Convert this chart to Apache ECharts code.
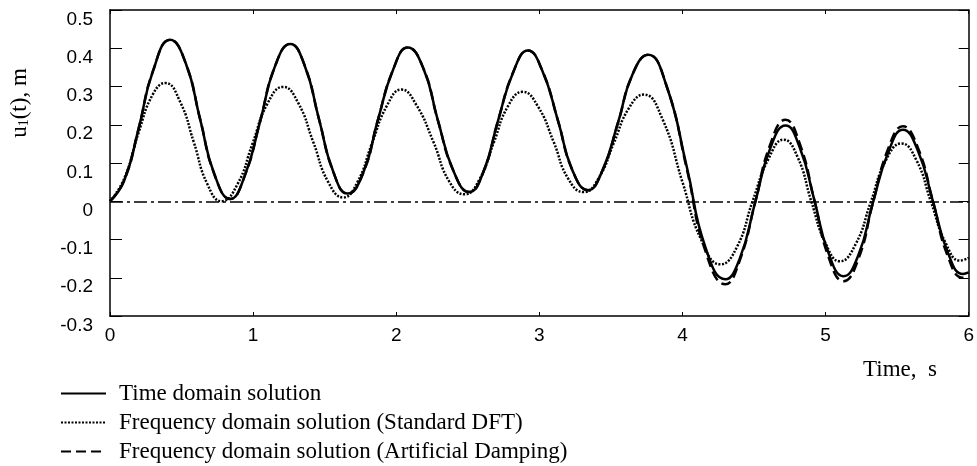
<!DOCTYPE html>
<html>
<head>
<meta charset="utf-8">
<script src="https://cdn.jsdelivr.net/npm/echarts@6/dist/echarts.min.js"></script>
<style>
  html, body { margin: 0; padding: 0; background: #fff; }
  #chart { width: 977px; height: 466px; }
</style>
</head>
<body>
<div id="chart"></div>
<script>
// Time domain solution (solid)
const timeT = [0, 0.1, 0.2, 0.3, 0.42, 0.53, 0.63, 0.73, 0.84, 0.94, 1.05, 1.15, 1.26, 1.36, 1.46, 1.56, 1.66,
    1.77, 1.87, 1.98, 2.08, 2.19, 2.29, 2.40, 2.51, 2.61, 2.71, 2.82, 2.92, 3.02, 3.13, 3.23, 3.34,
    3.44, 3.55, 3.65, 3.76, 3.89, 4.03, 4.16, 4.30, 4.40, 4.51, 4.61, 4.72, 4.82, 4.92, 5.02, 5.125,
    5.23, 5.33, 5.44, 5.54, 5.645, 5.75, 5.855, 5.96, 6.0];
const timeU = [0, 0.055, 0.19, 0.34, 0.422, 0.36, 0.214, 0.07, 0.006, 0.065, 0.21, 0.35, 0.411, 0.355, 0.215, 0.077, 0.02,
    0.075, 0.21, 0.346, 0.402, 0.347, 0.213, 0.079, 0.024, 0.078, 0.209, 0.34, 0.394, 0.342, 0.211, 0.082, 0.029,
    0.08, 0.206, 0.331, 0.383, 0.30, 0.09, -0.12, -0.204, -0.15, 0.0, 0.135, 0.198, 0.14, 0.005, -0.135, -0.196,
    -0.14, -0.005, 0.13, 0.187, 0.132, 0.0, -0.135, -0.19, -0.186];

// Frequency domain solution, standard DFT (dotted)
const dftT = [0, 0.1, 0.2, 0.3, 0.387, 0.49, 0.585, 0.68, 0.78, 0.89, 0.995, 1.10, 1.21, 1.315, 1.42, 1.525, 1.63,
    1.73, 1.83, 1.935, 2.036, 2.14, 2.26, 2.37, 2.477, 2.58, 2.68, 2.78, 2.884, 2.99, 3.10, 3.20, 3.31,
    3.415, 3.52, 3.625, 3.73, 3.86, 4.0, 4.13, 4.266, 4.38, 4.49, 4.60, 4.707, 4.805, 4.90, 5.0, 5.10,
    5.21, 5.315, 5.42, 5.53, 5.635, 5.735, 5.84, 5.94, 6.0];
const dftU = [0, 0.06, 0.18, 0.28, 0.309, 0.26, 0.155, 0.045, 0.0, 0.044, 0.15, 0.255, 0.299, 0.257, 0.155, 0.05, 0.01,
    0.051, 0.151, 0.25, 0.292, 0.252, 0.155, 0.052, 0.018, 0.056, 0.152, 0.248, 0.286, 0.248, 0.155, 0.06, 0.024,
    0.061, 0.152, 0.243, 0.279, 0.215, 0.05, -0.10, -0.165, -0.12, 0.0, 0.11, 0.161, 0.115, 0.0, -0.11, -0.157,
    -0.112, -0.003, 0.106, 0.151, 0.107, 0.0, -0.11, -0.155, -0.148];

// Frequency domain solution, artificial damping (dashed)
const dampT = timeT;
const dampU = [0, 0.055, 0.19, 0.34, 0.422, 0.36, 0.214, 0.07, 0.006, 0.065, 0.21, 0.35, 0.411, 0.355, 0.215, 0.077, 0.02,
    0.075, 0.21, 0.346, 0.402, 0.347, 0.213, 0.079, 0.024, 0.078, 0.209, 0.34, 0.394, 0.342, 0.211, 0.082, 0.029,
    0.08, 0.206, 0.331, 0.383, 0.30, 0.085, -0.13, -0.217, -0.155, 0.0, 0.145, 0.213, 0.15, 0.005, -0.145, -0.209,
    -0.15, -0.005, 0.14, 0.196, 0.14, 0.0, -0.145, -0.2, -0.196];

const seriesNames = [
    'Time domain solution',
    'Frequency domain solution (Standard DFT)',
    'Frequency domain solution (Artificial Damping)'
];

const zip = (t, u) => t.map((x, i) => [x, u[i]]);

const chart = echarts.init(document.getElementById('chart'));

const axisLine = { show: true, onZero: false, lineStyle: { color: '#000', width: 1.5 } };
const sansLabel = { color: '#000', fontFamily: 'Liberation Sans, Arial', fontSize: 19 };
const serif = 'Liberation Serif, Times New Roman';

chart.setOption({
    animation: false,
    grid: { left: 110, right: 7, top: 10, bottom: 150 },
    xAxis: [{
        type: 'value', min: 0, max: 6, interval: 1,
        axisLine: axisLine,
        axisTick: { show: true, inside: true, length: 4, lineStyle: { color: '#000' } },
        axisLabel: Object.assign({ margin: 10 }, sansLabel),
        splitLine: { show: false }
    }, {
        type: 'value', position: 'top', min: 0, max: 6, interval: 1,
        axisLine: axisLine,
        axisTick: { show: true, inside: true, length: 4, lineStyle: { color: '#000' } },
        axisLabel: { show: false },
        splitLine: { show: false }
    }],
    yAxis: [{
        type: 'value', min: -0.3, max: 0.5, interval: 0.1,
        axisLine: axisLine,
        axisTick: { show: true, inside: true, length: 12, lineStyle: { color: '#000' } },
        axisLabel: Object.assign({
            margin: 17, verticalAlign: 'top',
            formatter: v => String(Math.round(v * 10) / 10)
        }, sansLabel),
        splitLine: { show: false }
    }, {
        type: 'value', position: 'right', min: -0.3, max: 0.5, interval: 0.1,
        axisLine: axisLine,
        axisTick: { show: true, inside: true, length: 10, lineStyle: { color: '#000' } },
        axisLabel: { show: false },
        splitLine: { show: false }
    }],
    legend: {
        orient: 'vertical', left: 55, top: 377, height: 100,
        itemWidth: 45, itemHeight: 14, itemGap: 6,
        itemStyle: { opacity: 0 },
        data: seriesNames,
        textStyle: { color: '#000', fontFamily: serif, fontSize: 23, padding: [0, 0, 0, 8] }
    },
    graphic: [{
        type: 'text', x: 20, y: 103, rotation: Math.PI / 2,
        style: {
            text: 'u{sub|1}(t), m',
            align: 'center', verticalAlign: 'middle',
            fontFamily: serif, fontSize: 23, fill: '#000',
            rich: { sub: { fontSize: 14, fontFamily: serif, padding: [9, 0, 0, 0] } }
        }
    }, {
        type: 'text', x: 900, y: 370,
        style: {
            text: 'Time,  s', align: 'center', verticalAlign: 'middle',
            fontFamily: serif, fontSize: 23, fill: '#000'
        }
    }],
    series: [{
        name: seriesNames[2], type: 'line', smooth: true, symbol: 'none',
        data: zip(dampT, dampU),
        lineStyle: { color: '#000', width: 2.5, type: [10, 5] },
        itemStyle: { color: '#000' },
        z: 3
    }, {
        name: seriesNames[1], type: 'line', smooth: true, symbol: 'none',
        data: zip(dftT, dftU),
        lineStyle: { color: '#000', width: 2.5, type: [2, 1.5] },
        itemStyle: { color: '#000' },
        z: 2
    }, {
        name: seriesNames[0], type: 'line', smooth: true, symbol: 'none',
        data: zip(timeT, timeU),
        lineStyle: { color: '#000', width: 2.5 },
        itemStyle: { color: '#000' },
        z: 4,
        markLine: {
            silent: true, symbol: 'none', label: { show: false },
            lineStyle: { color: '#000', width: 1.5, type: [13, 4, 3, 4] },
            data: [{ yAxis: 0 }]
        }
    }]
});
</script>
</body>
</html>
